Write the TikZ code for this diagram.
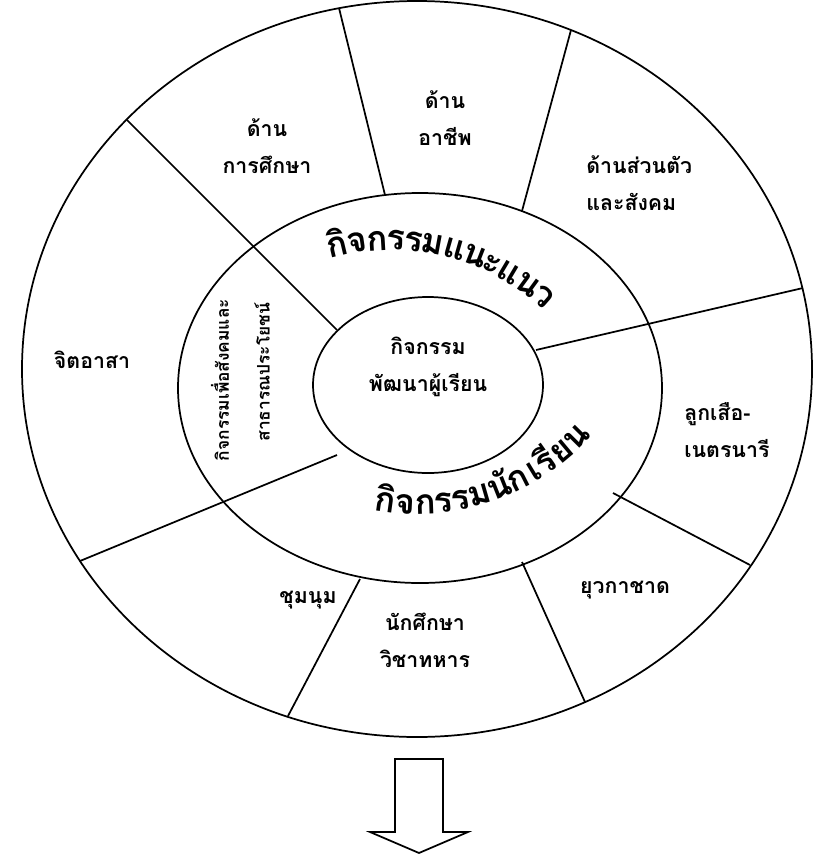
\documentclass[tikz,border=0pt]{standalone}
\usepackage{fontspec}
\newfontfamily\thai[Script=Thai]{Loma}
\tikzset{
  ring/.style={line width=1.3pt},
  lbl/.style={font=\thai\bfseries\fontsize{16}{28}\selectfont, align=center, inner sep=0.75pt},
  arclbl/.style={font=\thai\bfseries\fontsize{26}{26}\selectfont, inner sep=0pt, anchor=base},
  sidelbl/.style={font=\thai\bfseries\fontsize{13}{13}\selectfont, inner sep=0.75pt, rotate=90},
}
\begin{document}
\begin{tikzpicture}[x=0.75pt,y=0.75pt,yscale=-1,xscale=1]
\useasboundingbox (0,0) rectangle (815,854);
\clip (0,0) rectangle (815,854);

%Shape: Ellipse [id:dp1] 
\draw [ring] (417,369) ellipse [x radius=395, y radius=368];
%Shape: Ellipse [id:dp2] 
\draw [ring] (420,388) ellipse [x radius=242, y radius=195];
%Shape: Ellipse [id:dp3] 
\draw [ring] (428,385) ellipse [x radius=115, y radius=88];

%Straight Lines [id:da1] 
\draw [ring] (127,120) -- (337,330) ;
%Straight Lines [id:da2] 
\draw [ring] (339,8) -- (385,195) ;
%Straight Lines [id:da3] 
\draw [ring] (571,30) -- (522,211) ;
%Straight Lines [id:da4] 
\draw [ring] (536,350) -- (803,288) ;
%Straight Lines [id:da5] 
\draw [ring] (613,493) -- (750,565) ;
%Straight Lines [id:da6] 
\draw [ring] (522,562) -- (585,702) ;
%Straight Lines [id:da7] 
\draw [ring] (360,579) -- (288,716) ;
%Straight Lines [id:da8] 
\draw [ring] (337,455) -- (80,561) ;

%Down Arrow [id:dp4] 
\draw [ring] (395,832) -- (395,759) -- (443,759) -- (443,832) -- (468,832) -- (419,853) -- (370,832) -- cycle ;

% Text Node
\draw (267,146) node [lbl] (edu) {ด้าน\\การศึกษา};
% Text Node
\draw (445,118) node [lbl] (job) {ด้าน\\อาชีพ};
% Text Node
\draw (585,183) node [lbl, anchor=west, align=left] (self) {ด้านส่วนตัว\\และสังคม};
% Text Node
\draw (92,360) node [lbl] (vol) {จิตอาสา};
% Text Node
\draw (683,430) node [lbl, anchor=west, align=left] (scout) {ลูกเสือ-\\เนตรนารี};
% Text Node
\draw (625,590) node [lbl] (redx) {ยุวกาชาด};
% Text Node
\draw (308,600) node [lbl] (club) {ชุมนุม};
% Text Node
\draw (425,640) node [lbl] (cadet) {นักศึกษา\\วิชาทหาร};
% Text Node
\draw (428,367) node [lbl] (core) {กิจกรรม\\พัฒนาผู้เรียน};
% Text Node
\draw (220,380) node [sidelbl] (socA) {กิจกรรมเพื่อสังคมและ};
% Text Node
\draw (262,372) node [sidelbl] (socB) {สาธารณประโยชน์};

% Arc Text (top)
\foreach \ch/\ang [count=\i] in {กิ/103.3,จ/98.35,ก/93.4,ร/88.7,ร/84.5,ม/79.65,แ/74.1,น/68.7,ะ/64.1,แ/59.3,น/53.9,ว/49.05}
  \draw ({391+222*cos(\ang)},{472-222*sin(\ang)}) node [arclbl, rotate=\ang-90] (gd\i) {\ch};
% Arc Text (bottom)
\foreach \ch/\ang [count=\i] in {กิ/-98,จ/-92.95,ก/-87.9,ร/-83.1,ร/-78.8,ม/-73.85,นั/-68.4,ก/-63.1,เ/-58.7,รี/-54.8,ย/-50,น/-44.7}
  \draw ({417+235*cos(\ang)},{279-235*sin(\ang)}) node [arclbl, rotate=\ang+90] (st\i) {\ch};

\end{tikzpicture}
\end{document}
